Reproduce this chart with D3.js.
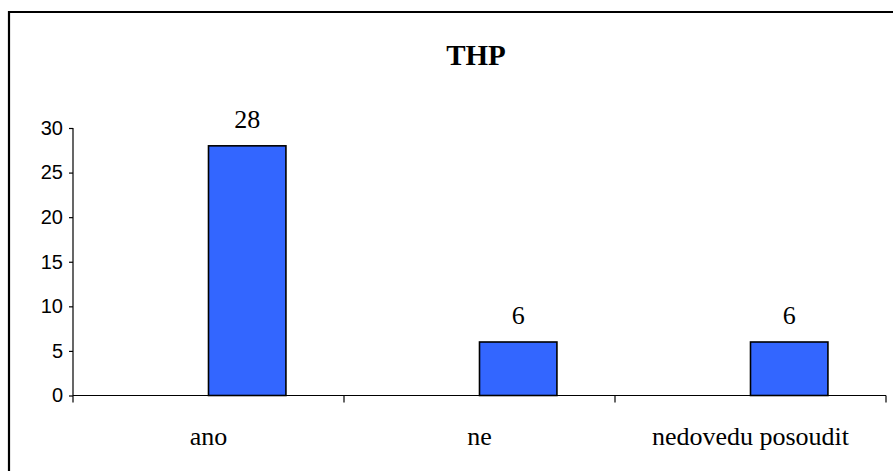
<!DOCTYPE html>
<html>
<head>
<meta charset="utf-8">
<script src="https://cdn.jsdelivr.net/npm/d3@7"></script>
<style>
  html, body { margin: 0; padding: 0; background: #fff; }
  svg { display: block; }
  .serif { font-family: "Liberation Serif", "Times New Roman", Times, serif; }
  .sans { font-family: "Liberation Sans", Arial, Helvetica, sans-serif; }
</style>
</head>
<body>
<script>
// Survey answers for the THP group
const categories = ["ano", "ne", "nedovedu posoudit"];
const values = [28, 6, 6];
const yTicks = [0, 5, 10, 15, 20, 25, 30];
const title = "THP";

const W = 893, H = 471;
const plot = { left: 73, right: 886, top: 128, bottom: 395.5 };

const svg = d3.select("body").append("svg")
  .attr("width", W).attr("height", H);

svg.append("rect").attr("width", W).attr("height", H).attr("fill", "#fff");

// chart frame (runs past the right and bottom edges)
svg.append("path")
  .attr("d", `M9,${H + 5} L9,12 L${W + 5},12`)
  .attr("fill", "none").attr("stroke", "#000").attr("stroke-width", 2.2);

const x = d3.scaleBand().domain(categories).range([plot.left, plot.right]).padding(0);
// two slots per category with a 150% gap; the series sits in the second slot
const slot = d3.scaleBand().domain([0, 1]).range([0, x.bandwidth()])
  .paddingInner(0).paddingOuter(0.75);
const y = d3.scaleLinear().domain([0, 30]).range([plot.bottom, plot.top]);

// y axis
const yAxis = svg.append("g").attr("transform", `translate(${plot.left},0)`)
  .call(d3.axisLeft(y).tickValues(yTicks).tickSize(4).tickPadding(6));
yAxis.attr("font-family", null).attr("font-size", null);
yAxis.select(".domain").attr("d", `M0,${plot.top}V${plot.bottom + 7}`);
yAxis.selectAll("line, .domain").attr("stroke", "#000").attr("stroke-width", 1.2);
yAxis.selectAll("text")
  .attr("class", "sans")
  .style("font-size", "20px").attr("fill", "#000");

// bars
svg.append("g").selectAll("rect")
  .data(categories.map((c, i) => ({ c, v: values[i] })))
  .join("rect")
  .attr("x", d => x(d.c) + slot(1))
  .attr("y", d => y(d.v))
  .attr("width", slot.bandwidth())
  .attr("height", d => y(0) - y(d.v))
  .attr("fill", "#3366FF")
  .attr("stroke", "#000").attr("stroke-width", 1.6);

// x axis with ticks between categories
const xAxis = svg.append("g").attr("transform", `translate(0,${plot.bottom})`);
xAxis.append("line").attr("x1", plot.left).attr("x2", plot.right)
  .attr("stroke", "#000").attr("stroke-width", 1.2);
const bounds = categories.map(c => x(c)).concat([plot.right]);
xAxis.selectAll("line.tick").data(bounds.slice(1)).join("line")
  .attr("class", "tick")
  .attr("x1", d => d).attr("x2", d => d).attr("y1", 0).attr("y2", 7)
  .attr("stroke", "#000").attr("stroke-width", 1.2);
xAxis.selectAll("text").data(categories).join("text")
  .attr("class", "serif")
  .attr("x", d => x(d) + x.bandwidth() / 2)
  .attr("y", 49)
  .attr("text-anchor", "middle")
  .style("font-size", "26px").attr("fill", "#000")
  .text(d => d);

// value labels
svg.append("g").selectAll("text")
  .data(categories.map((c, i) => ({ c, v: values[i] })))
  .join("text")
  .attr("class", "serif")
  .attr("x", d => x(d.c) + slot(1) + slot.bandwidth() / 2)
  .attr("y", d => y(d.v) - 18)
  .attr("text-anchor", "middle")
  .style("font-size", "26px").attr("fill", "#000")
  .text(d => d.v);

// title
svg.append("text")
  .attr("class", "serif")
  .attr("x", 476).attr("y", 65)
  .attr("text-anchor", "middle")
  .style("font-weight", "bold")
  .style("font-size", "29px").attr("fill", "#000")
  .text(title);
</script>
</body>
</html>
